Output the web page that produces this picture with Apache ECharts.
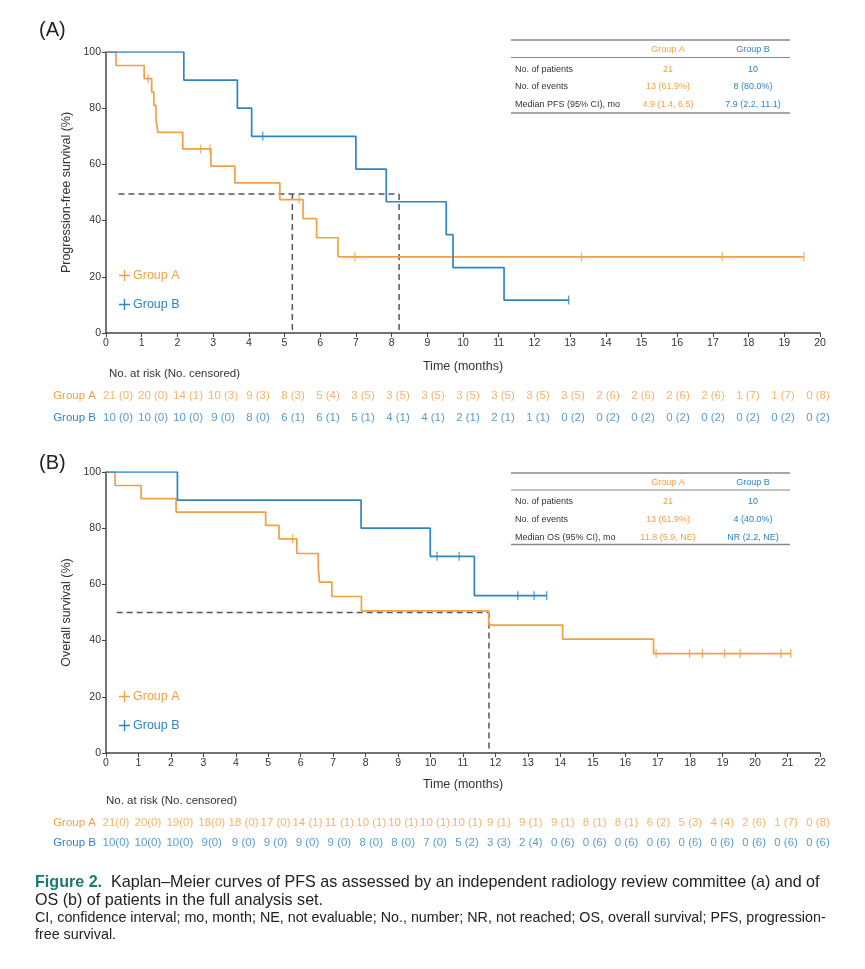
<!DOCTYPE html>
<html>
<head>
<meta charset="utf-8">
<script src="https://cdn.jsdelivr.net/npm/echarts@6/dist/echarts.min.js"></script>
<style>
  html, body { margin: 0; padding: 0; background: #fff; }
  #main { width: 865px; height: 969px; }
</style>
</head>
<body>
<div id="main"></div>
<script>
// KM curves: time (months) and survival (%)
const pfsA_t = [0, 0.28, 1.07, 1.28, 1.34, 1.40, 1.45, 2.15, 2.94, 3.61, 4.87, 5.52, 5.90, 6.50, 19.55]
const pfsA_s = [100, 95.2, 90.5, 85.7, 81.0, 76.2, 71.4, 65.5, 59.4, 53.4, 47.5, 40.7, 33.9, 27.1, 27.1]
const pfsA_cens = [[1.18, 90.5], [2.65, 65.5], [2.91, 65.5], [5.41, 47.5], [6.97, 27.1], [13.32, 27.1], [17.26, 27.1], [19.55, 27.1]]

const pfsB_t = [0, 2.18, 3.68, 4.08, 7.0, 7.85, 9.53, 9.72, 11.15, 12.96]
const pfsB_s = [100, 90, 80, 70, 58.3, 46.7, 35.0, 23.3, 11.7, 11.7]
const pfsB_cens = [[4.39, 70], [12.96, 11.7]]

const osA_t = [0, 0.28, 1.08, 2.16, 4.92, 5.33, 5.88, 6.54, 6.58, 6.96, 7.87, 11.79, 14.07, 16.87, 21.1]
const osA_s = [100, 95.2, 90.5, 85.7, 81.0, 76.2, 71.0, 65.9, 60.8, 55.7, 50.6, 45.5, 40.5, 35.4, 35.4]
const osA_cens = [[5.75, 76.2], [16.95, 35.4], [17.98, 35.4], [18.38, 35.4], [19.06, 35.4], [19.54, 35.4], [20.8, 35.4], [21.1, 35.4]]

const osB_t = [0, 2.2, 7.86, 9.99, 11.35, 13.58]
const osB_s = [100, 90, 80, 70, 56, 56]
const osB_cens = [[10.2, 70], [10.88, 70], [12.69, 56], [13.19, 56], [13.58, 56]]

// median reference lines
const pfsMedians = [5.22, 8.21]
const pfsMedianStart = 0.35
const pfsMedianLevel = 49.5
const osMedians = [11.8]
const osMedianStart = 0.33
const osMedianLevel = 50

// number at risk (censored)
const pfsRiskA = ['21 (0)', '20 (0)', '14 (1)', '10 (3)', '9 (3)', '8 (3)', '5 (4)', '3 (5)', '3 (5)', '3 (5)', '3 (5)', '3 (5)', '3 (5)', '3 (5)', '2 (6)', '2 (6)', '2 (6)', '2 (6)', '1 (7)', '1 (7)', '0 (8)']
const pfsRiskB = ['10 (0)', '10 (0)', '10 (0)', '9 (0)', '8 (0)', '6 (1)', '6 (1)', '5 (1)', '4 (1)', '4 (1)', '2 (1)', '2 (1)', '1 (1)', '0 (2)', '0 (2)', '0 (2)', '0 (2)', '0 (2)', '0 (2)', '0 (2)', '0 (2)']
const osRiskA = ['21(0)', '20(0)', '19(0)', '18(0)', '18 (0)', '17 (0)', '14 (1)', '11 (1)', '10 (1)', '10 (1)', '10 (1)', '10 (1)', '9 (1)', '9 (1)', '9 (1)', '8 (1)', '8 (1)', '6 (2)', '5 (3)', '4 (4)', '2 (6)', '1 (7)', '0 (8)']
const osRiskB = ['10(0)', '10(0)', '10(0)', '9(0)', '9 (0)', '9 (0)', '9 (0)', '9 (0)', '8 (0)', '8 (0)', '7 (0)', '5 (2)', '3 (3)', '2 (4)', '0 (6)', '0 (6)', '0 (6)', '0 (6)', '0 (6)', '0 (6)', '0 (6)', '0 (6)', '0 (6)']

// summary tables
const tableHead = ['Group A', 'Group B']
const pfsRows = ['No. of patients', 'No. of events', 'Median PFS (95% CI), mo']
const pfsColA = ['21', '13 (61.9%)', '4.9 (1.4, 6.5)']
const pfsColB = ['10', '8 (80.0%)', '7.9 (2.2, 11.1)']
const osRows = ['No. of patients', 'No. of events', 'Median OS (95% CI), mo']
const osColA = ['21', '13 (61.9%)', '11.8 (5.9, NE)']
const osColB = ['10', '4 (40.0%)', 'NR (2.2, NE)']

const ORANGE = '#f2a044'
const BLUE = '#2e85c4'
const TXT = '#333'
const FONT = 'Liberation Sans'

function zip(t, s) {
  return t.map((v, i) => [v, s[i]])
}

function kmSeries(name, t, s, cens, color, gi) {
  return [
    {
      name: name, type: 'line', step: 'end', xAxisIndex: gi, yAxisIndex: gi,
      data: zip(t, s), showSymbol: false, symbol: 'none', z: 3,
      lineStyle: { color: color, width: 1.7 }, itemStyle: { color: color }
    },
    {
      name: name + ' censored', type: 'scatter', xAxisIndex: gi, yAxisIndex: gi,
      data: cens, symbol: 'rect', symbolSize: [1.3, 9], z: 4,
      itemStyle: { color: color }
    }
  ]
}

function medianSeries(start, level, medians, gi) {
  let dash = { color: '#555', width: 1.5, type: [6, 4] }
  let out = [{
    type: 'line', xAxisIndex: gi, yAxisIndex: gi, symbol: 'none', z: 2,
    data: [[start, level], [medians[medians.length - 1], level]], lineStyle: dash
  }]
  medians.forEach(m => {
    out.push({
      type: 'line', xAxisIndex: gi, yAxisIndex: gi, symbol: 'none', z: 2,
      data: [[m, level], [m, 0]], lineStyle: dash
    })
  })
  return out
}

function riskSeries(labels, row, color, gi) {
  return {
    type: 'scatter', xAxisIndex: gi, yAxisIndex: gi, symbolSize: 0,
    data: labels.map((l, i) => [i, row]),
    label: {
      show: true, position: 'inside', color: color, fontSize: 11.5,
      formatter: p => labels[p.dataIndex]
    }
  }
}

function tableGraphic(y, colA, colB, rows) {
  let x0 = 511, x1 = 790, xl = 515, xa = 668, xb = 753
  let g = []
  let line = (yy, w) => ({
    type: 'line', shape: { x1: x0, y1: yy, x2: x1, y2: yy },
    style: { stroke: '#888', lineWidth: w }
  })
  let text = (x, yy, s, c, align) => ({
    type: 'text', x: x, y: yy,
    style: { text: s, fill: c, fontSize: 9, fontFamily: FONT, align: align, verticalAlign: 'middle' }
  })
  g.push(line(y.top, 1.6), line(y.mid, 1.2), line(y.bottom, 1.6))
  g.push(text(xa, y.head, tableHead[0], ORANGE, 'center'), text(xb, y.head, tableHead[1], BLUE, 'center'))
  rows.forEach((r, i) => {
    g.push(text(xl, y.rows[i], r, TXT, 'left'))
    g.push(text(xa, y.rows[i], colA[i], ORANGE, 'center'))
    g.push(text(xb, y.rows[i], colB[i], BLUE, 'center'))
  })
  return g
}

let chart = echarts.init(document.getElementById('main'))

let axisCommon = {
  axisLine: { show: true, onZero: false, lineStyle: { color: '#444', width: 1.5 } },
  axisTick: { show: true, length: 4, lineStyle: { color: '#444' } },
  axisLabel: { color: TXT, fontSize: 10.5, margin: 5 },
  splitLine: { show: false }
}

let plusIcon = 'path://M4.4,0H5.6V4.4H10V5.6H5.6V10H4.4V5.6H0V4.4H4.4Z'

function legendAt(top) {
  return {
    left: 114, top: top, orient: 'vertical', icon: plusIcon,
    itemWidth: 11, itemHeight: 11, itemGap: 16, selectedMode: false,
    textStyle: { fontSize: 12.5, padding: [0, 0, 0, -2] },
    data: [
      { name: 'Group A', textStyle: { color: ORANGE } },
      { name: 'Group B', textStyle: { color: BLUE } }
    ]
  }
}

let nameStyle = { color: TXT, fontSize: 12.5 }

let option = {
  animation: false,
  textStyle: { fontFamily: FONT },
  grid: [
    { left: 106, right: 45, top: 52, height: 281 },
    { left: 106, right: 45, top: 472, height: 281 },
    { left: 118, right: 47, top: 385, height: 44 },
    { left: 116, right: 47, top: 812.5, height: 40 }
  ],
  xAxis: [
    Object.assign({ type: 'value', gridIndex: 0, min: 0, max: 20, interval: 1, name: 'Time (months)', nameLocation: 'middle', nameGap: 27, nameTextStyle: nameStyle }, axisCommon),
    Object.assign({ type: 'value', gridIndex: 1, min: 0, max: 22, interval: 1, name: 'Time (months)', nameLocation: 'middle', nameGap: 25, nameTextStyle: nameStyle }, axisCommon),
    { type: 'value', gridIndex: 2, min: 0, max: 20, show: false },
    { type: 'value', gridIndex: 3, min: 0, max: 22, show: false }
  ],
  yAxis: [
    Object.assign({ type: 'value', gridIndex: 0, min: 0, max: 100, interval: 20, name: 'Progression-free survival (%)', nameLocation: 'middle', nameGap: 33, nameTextStyle: nameStyle }, axisCommon),
    Object.assign({ type: 'value', gridIndex: 1, min: 0, max: 100, interval: 20, name: 'Overall survival (%)', nameLocation: 'middle', nameGap: 33, nameTextStyle: nameStyle }, axisCommon),
    {
      type: 'category', gridIndex: 2, data: ['Group B', 'Group A'],
      axisLine: { show: false }, axisTick: { show: false },
      axisLabel: { fontSize: 11.5, margin: 22, color: (v) => v === 'Group A' ? ORANGE : BLUE }
    },
    {
      type: 'category', gridIndex: 3, data: ['Group B', 'Group A'],
      axisLine: { show: false }, axisTick: { show: false },
      axisLabel: { fontSize: 11.5, margin: 20, color: (v) => v === 'Group A' ? ORANGE : BLUE }
    }
  ],
  legend: [legendAt(264), legendAt(685)],
  series: [].concat(
    medianSeries(pfsMedianStart, pfsMedianLevel, pfsMedians, 0),
    kmSeries('Group A', pfsA_t, pfsA_s, pfsA_cens, ORANGE, 0),
    kmSeries('Group B', pfsB_t, pfsB_s, pfsB_cens, BLUE, 0),
    medianSeries(osMedianStart, osMedianLevel, osMedians, 1),
    kmSeries('Group A', osA_t, osA_s, osA_cens, ORANGE, 1),
    kmSeries('Group B', osB_t, osB_s, osB_cens, BLUE, 1),
    [
      riskSeries(pfsRiskA, 'Group A', ORANGE, 2),
      riskSeries(pfsRiskB, 'Group B', BLUE, 2),
      riskSeries(osRiskA, 'Group A', ORANGE, 3),
      riskSeries(osRiskB, 'Group B', BLUE, 3)
    ]
  ),
  graphic: [].concat(
    [
      { type: 'text', x: 39, y: 30, style: { text: '(A)', fontSize: 20, fill: '#222', fontFamily: FONT, verticalAlign: 'middle' } },
      { type: 'text', x: 39, y: 463, style: { text: '(B)', fontSize: 20, fill: '#222', fontFamily: FONT, verticalAlign: 'middle' } },
      { type: 'text', x: 109, y: 374, style: { text: 'No. at risk (No. censored)', fontSize: 11.5, fill: TXT, fontFamily: FONT, verticalAlign: 'middle' } },
      { type: 'text', x: 106, y: 801, style: { text: 'No. at risk (No. censored)', fontSize: 11.5, fill: TXT, fontFamily: FONT, verticalAlign: 'middle' } },
      {
        type: 'text', x: 35, y: 883,
        style: {
          text: '{b|Figure 2.}  Kaplan–Meier curves of PFS as assessed by an independent radiology review committee (a) and of',
          fontSize: 16.1, fill: '#222', fontFamily: FONT, verticalAlign: 'middle',
          rich: { b: { fontSize: 16.1, fontWeight: 'bold', fill: '#1a7a70', fontFamily: FONT } }
        }
      },
      { type: 'text', x: 35, y: 901, style: { text: 'OS (b) of patients in the full analysis set.', fontSize: 16.1, fill: '#222', fontFamily: FONT, verticalAlign: 'middle' } },
      { type: 'text', x: 35, y: 918, style: { text: 'CI, confidence interval; mo, month; NE, not evaluable; No., number; NR, not reached; OS, overall survival; PFS, progression-', fontSize: 14.3, fill: '#222', fontFamily: FONT, verticalAlign: 'middle' } },
      { type: 'text', x: 35, y: 935, style: { text: 'free survival.', fontSize: 14.3, fill: '#222', fontFamily: FONT, verticalAlign: 'middle' } }
    ],
    tableGraphic({ top: 40, head: 50, mid: 57.5, rows: [69.5, 87, 104.5], bottom: 113 }, pfsColA, pfsColB, pfsRows),
    tableGraphic({ top: 473, head: 483, mid: 490, rows: [502, 519.5, 537.5], bottom: 544.5 }, osColA, osColB, osRows)
  )
}

chart.setOption(option)
</script>
</body>
</html>
